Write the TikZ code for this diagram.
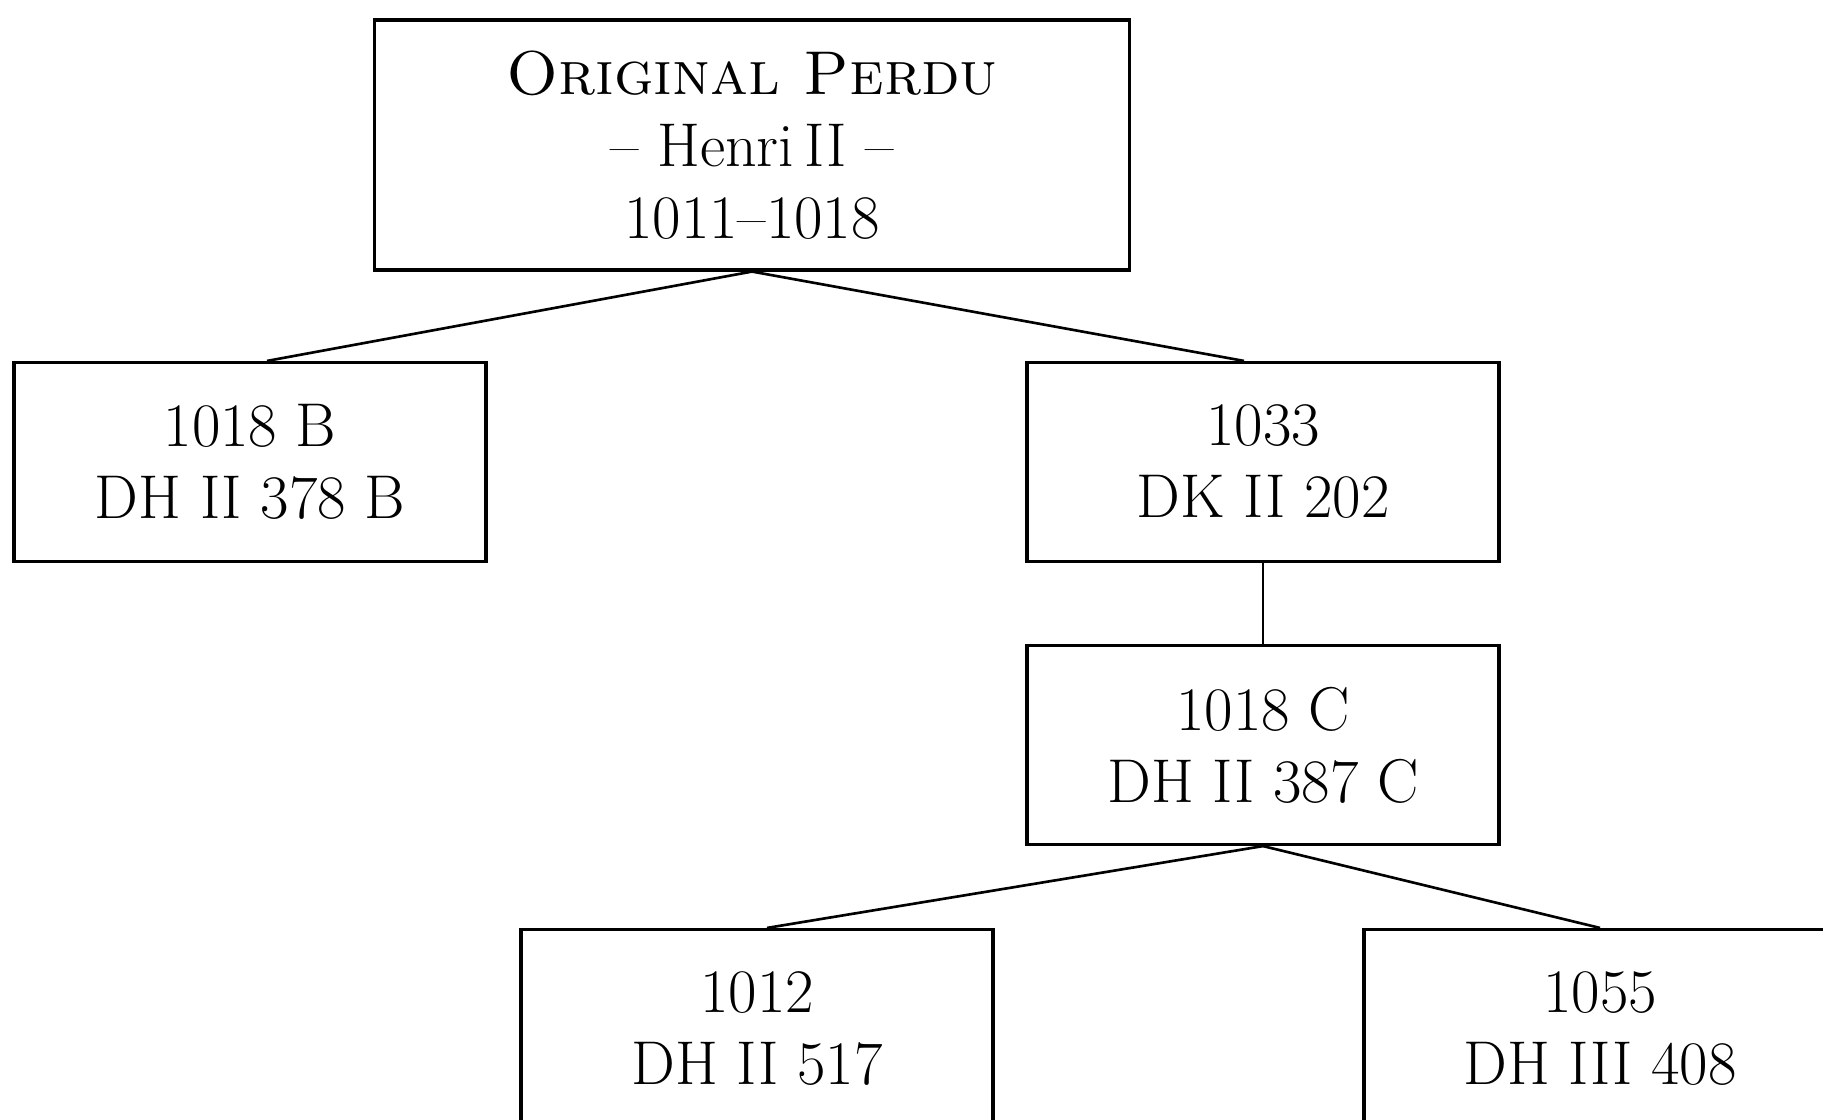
\documentclass[tikz,border=0pt]{standalone}
\usepackage{tikz}

\begin{document}
\begin{tikzpicture}[x=0.1mm,y=-0.1mm,font=\fontsize{17.6}{20.5}\selectfont,
  witness/.style={draw,line width=0.9pt,align=center,minimum width=47.2mm,minimum height=19.9mm,inner sep=0pt},
  link/.style={line width=0.75pt}]
\useasboundingbox (0,0) rectangle (1823,1119);
\clip (0,0) rectangle (1823,1119);
% lost original
\node[witness,minimum width=75.5mm,minimum height=25mm] (orig) at (752,145)
  {\textsc{Original Perdu}\\-- Henri\,II --\\1011--1018};
% first copies
\node[witness] (dhB) at (250,462) {1018 B\\DH II 378 B};
\node[witness] (dk) at (1263,462) {1033\\DK II 202};
\node[witness] (dhC) at (1263,745) {1018 C\\DH II 387 C};
% later copies (cut by the page edge)
\node[witness] (dh517) at (757,1029) {1012\\DH II 517};
\node[witness] (dh408) at (1600,1029) {1055\\DH III 408};
% filiation
\draw[link] (orig.south) -- ([xshift=1.7mm]dhB.north);
\draw[link] (orig.south) -- ([xshift=-1.9mm]dk.north);
\draw[link] (dk.south) -- (dhC.north);
\draw[link] (dhC.south) -- ([xshift=1mm]dh517.north);
\draw[link] (dhC.south) -- (dh408.north);
\end{tikzpicture}
\end{document}
